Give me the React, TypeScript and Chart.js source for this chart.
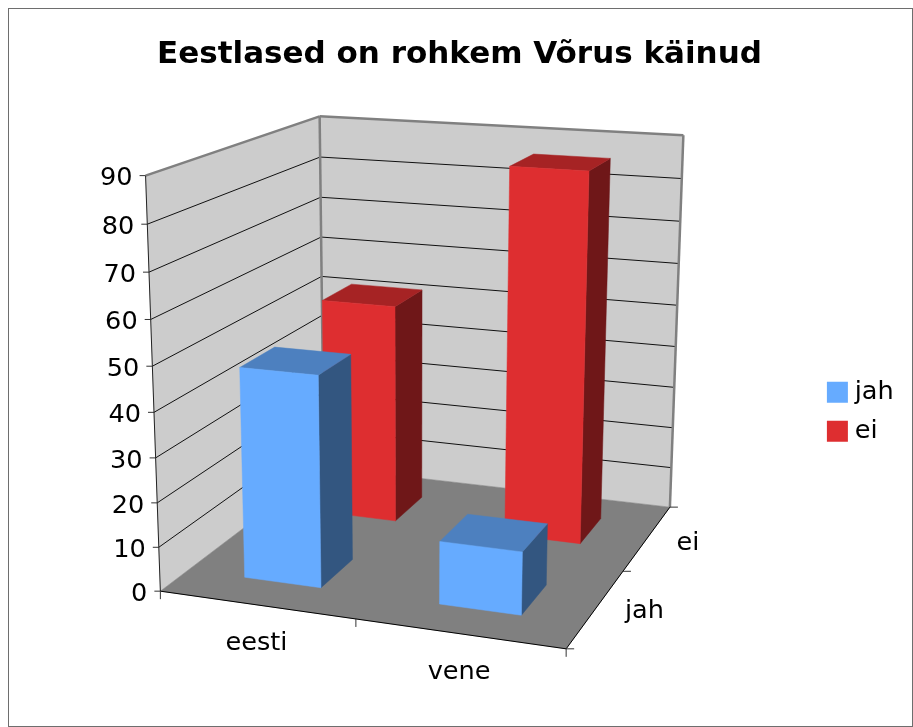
import React, { useEffect, useRef } from "react";
import { Chart, registerables } from "chart.js";

Chart.register(...registerables);

const chartTitle = "Eestlased on rohkem Võrus käinud";
const categories = ["eesti", "vene"];
const seriesNames = ["jah", "ei"];
const jahValues = [47.5, 14];
const eiValues = [52, 86];
const valueTicksMax = 90;
const valueTickStep = 10;

const FONT = "'DejaVu Sans', sans-serif";
const COLORS = {
  jah: { front: "#66ABFF", top: "#4D80BF", side: "#335680" },
  ei: { front: "#DE2E30", top: "#A62324", side: "#6F1718" },
};
const seriesColors = [COLORS.jah, COLORS.ei];

// Camera calibration: (across, depth, height) in 0..1 -> pixel
const CALIB: number[][] = [
  [0, 0, 0, 160.5, 591.5],
  [1, 0, 0, 565.7, 649],
  [1, 1, 0, 670.7, 506.7],
  [0, 1, 0, 323, 467],
  [0, 0, 1, 145, 175.5],
  [0, 1, 1, 320, 116],
  [1, 1, 1, 684, 135],
  [0, 0, 8 / 9, 147.3, 224],
  [0, 0, 7 / 9, 149, 272],
  [0, 0, 3 / 9, 156, 458],
  [0, 0, 2 / 9, 157.5, 502.7],
  [0, 0, 1 / 9, 159, 547.3],
  [0, 1, 8 / 9, 320.3, 157],
  [0, 1, 7 / 9, 320.7, 198],
  [1, 1, 8 / 9, 681, 178.7],
  [1, 1, 7 / 9, 680, 221.7],
];

function solveCamera(points: number[][]): number[] {
  const n = 11;
  const A: number[][] = Array.from({ length: n }, () => new Array(n + 1).fill(0));
  const add = (row: number[], rhs: number) => {
    for (let i = 0; i < n; i++) {
      for (let j = 0; j < n; j++) A[i][j] += row[i] * row[j];
      A[i][n] += row[i] * rhs;
    }
  };
  for (const [X, Y, Z, x, y] of points) {
    add([X, Y, Z, 1, 0, 0, 0, 0, -x * X, -x * Y, -x * Z], x);
    add([0, 0, 0, 0, X, Y, Z, 1, -y * X, -y * Y, -y * Z], y);
  }
  for (let c = 0; c < n; c++) {
    let p = c;
    for (let r = c + 1; r < n; r++) if (Math.abs(A[r][c]) > Math.abs(A[p][c])) p = r;
    [A[c], A[p]] = [A[p], A[c]];
    for (let r = 0; r < n; r++) {
      if (r === c) continue;
      const f = A[r][c] / A[c][c];
      for (let k = c; k <= n; k++) A[r][k] -= f * A[c][k];
    }
  }
  return A.map((row, i) => row[n] / row[i]);
}

const CAM = solveCamera(CALIB);
function project(u: number, v: number, w: number): [number, number] {
  const d = CAM[8] * u + CAM[9] * v + CAM[10] * w + 1;
  return [
    (CAM[0] * u + CAM[1] * v + CAM[2] * w + CAM[3]) / d,
    (CAM[4] * u + CAM[5] * v + CAM[6] * w + CAM[7]) / d,
  ];
}

const BAR_W = 0.2;
const BAR_D = 0.2;

function poly(ctx: CanvasRenderingContext2D, pts: [number, number][], fill: string) {
  ctx.beginPath();
  pts.forEach((p, i) => (i ? ctx.lineTo(p[0], p[1]) : ctx.moveTo(p[0], p[1])));
  ctx.closePath();
  ctx.fillStyle = fill;
  ctx.fill();
  ctx.strokeStyle = fill;
  ctx.lineWidth = 0.5;
  ctx.stroke();
}

function line(ctx: CanvasRenderingContext2D, a: [number, number], b: [number, number], color: string, w = 1) {
  ctx.beginPath();
  ctx.moveTo(a[0], a[1]);
  ctx.lineTo(b[0], b[1]);
  ctx.strokeStyle = color;
  ctx.lineWidth = w;
  ctx.stroke();
}

const scene3d = {
  id: "scene3d",
  afterLayout(chart: any) {
    const { titleBlock, legend } = chart;
    if (titleBlock) {
      titleBlock.left += 3;
      titleBlock.right += 3;
    }
    if (legend) {
      legend.left = 819.5;
      legend.top = 366;
    }
  },
  beforeDatasetDraw() {
    return false;
  },
  beforeDatasetsDraw(chart: any) {
    const ctx: CanvasRenderingContext2D = chart.ctx;
    const xs = chart.scales.x;
    const ys = chart.scales.y;
    const hNorm = (val: number) => (ys.bottom - ys.getPixelForValue(val)) / (ys.bottom - ys.top);
    const uNorm = (i: number) => (xs.getPixelForValue(i) - xs.left) / (xs.right - xs.left);
    ctx.save();

    // frame
    ctx.strokeStyle = "#6e6e6e";
    ctx.lineWidth = 1;
    ctx.strokeRect(8.5, 8.5, 904, 718);

    // walls and floor
    poly(ctx, [project(0, 0, 0), project(0, 1, 0), project(0, 1, 1), project(0, 0, 1)], "#CCCCCC");
    poly(ctx, [project(0, 1, 0), project(1, 1, 0), project(1, 1, 1), project(0, 1, 1)], "#CCCCCC");
    poly(ctx, [project(0, 0, 0), project(1, 0, 0), project(1, 1, 0), project(0, 1, 0)], "#808080");

    // grid lines, value ticks and value labels
    ctx.font = `25.6px ${FONT}`;
    for (const t of ys.ticks) {
      const w = hNorm(t.value);
      const a = project(0, 0, w);
      const b = project(0, 1, w);
      const c = project(1, 1, w);
      if (t.value > 0 && t.value < valueTicksMax) {
        line(ctx, a, b, "#111111");
        line(ctx, b, c, "#111111");
      }
      line(ctx, [a[0] - 6, a[1]], a, "#333333");
      ctx.fillStyle = "#000000";
      ctx.textAlign = "right";
      ctx.textBaseline = "middle";
      ctx.fillText(String(t.value), a[0] - 13, a[1] + 3);
    }

    // edges
    line(ctx, project(0, 0, 1), project(0, 1, 1), "#808080", 2.5);
    line(ctx, project(0, 1, 1), project(1, 1, 1), "#808080", 2.5);
    line(ctx, project(0, 1, 0), project(0, 1, 1), "#808080", 2.5);
    line(ctx, project(1, 1, 0), project(1, 1, 1), "#808080", 2.5);
    line(ctx, project(0, 0, 0), project(0, 0, 1), "#222222", 1);
    line(ctx, project(0, 0, 0), project(1, 0, 0), "#000000", 1);
    line(ctx, project(1, 0, 0), project(1, 1, 0), "#000000", 1);

    // category ticks and labels
    ctx.fillStyle = "#000000";
    for (let k = 0; k <= categories.length; k++) {
      const p = project(k / categories.length, 0, 0);
      line(ctx, p, [p[0], p[1] + 8], "#333333");
    }
    categories.forEach((_, i) => {
      const p = project(uNorm(i), 0, 0);
      ctx.textAlign = "center";
      ctx.textBaseline = "middle";
      ctx.fillText(xs.getLabelForValue(i), p[0], p[1] + 39);
    });
    // depth ticks and labels
    for (let k = 0; k <= seriesNames.length; k++) {
      const p = project(1, k / seriesNames.length, 0);
      line(ctx, p, [p[0] + 8, p[1]], "#333333");
    }
    seriesNames.forEach((name, i) => {
      const p = project(1, (i + 0.5) / seriesNames.length, 0);
      ctx.textAlign = "left";
      ctx.textBaseline = "middle";
      ctx.fillText(name, p[0] + 29, p[1] + (i === 0 ? 3 : 6));
    });

    // bars, back row first
    for (let d = chart.data.datasets.length - 1; d >= 0; d--) {
      const ds = chart.data.datasets[d];
      const vc = (d + 0.5) / chart.data.datasets.length;
      ds.data.forEach((val: number, i: number) => {
        const uc = uNorm(i);
        const u0 = uc - BAR_W / 2;
        const u1 = uc + BAR_W / 2;
        const v0 = vc - BAR_D / 2;
        const v1 = vc + BAR_D / 2;
        const h = hNorm(val);
        const col = seriesColors[d];
        poly(ctx, [project(u1, v0, 0), project(u1, v1, 0), project(u1, v1, h), project(u1, v0, h)], col.side);
        poly(ctx, [project(u0, v0, h), project(u1, v0, h), project(u1, v1, h), project(u0, v1, h)], col.top);
        poly(ctx, [project(u0, v0, 0), project(u1, v0, 0), project(u1, v0, h), project(u0, v0, h)], col.front);
      });
    }
    ctx.restore();
  },
};

export default function App() {
  const ref = useRef<HTMLCanvasElement>(null);
  useEffect(() => {
    document.body.style.margin = "0";
    const chart = new Chart(ref.current!, {
      type: "bar",
      data: {
        labels: categories,
        datasets: [
          { label: seriesNames[0], data: jahValues, backgroundColor: COLORS.jah.front },
          { label: seriesNames[1], data: eiValues, backgroundColor: COLORS.ei.front },
        ],
      },
      options: {
        responsive: false,
        animation: false,
        events: [],
        scales: {
          x: { display: false },
          y: { display: false, min: 0, max: valueTicksMax, ticks: { stepSize: valueTickStep } },
        },
        plugins: {
          title: {
            display: true,
            text: chartTitle,
            color: "#000000",
            font: { family: FONT, size: 31, weight: "bold" },
            padding: { top: 36, bottom: 10 },
          },
          legend: {
            display: true,
            position: "right",
            align: "start",
            labels: {
              color: "#000000",
              font: { family: FONT, size: 25.6 },
              boxWidth: 9,
              boxHeight: 9,
              padding: 13.4,
              generateLabels: (c: any) =>
                c.data.datasets.map((ds: any, i: number) => ({
                  text: ds.label,
                  fillStyle: ds.backgroundColor,
                  strokeStyle: ds.backgroundColor,
                  lineWidth: 12,
                  datasetIndex: i,
                })),
            },
          },
          tooltip: { enabled: false },
        },
      },
      plugins: [scene3d],
    } as any);
    return () => chart.destroy();
  }, []);
  return <canvas ref={ref} width={913} height={727} style={{ display: "block" }} />;
}
